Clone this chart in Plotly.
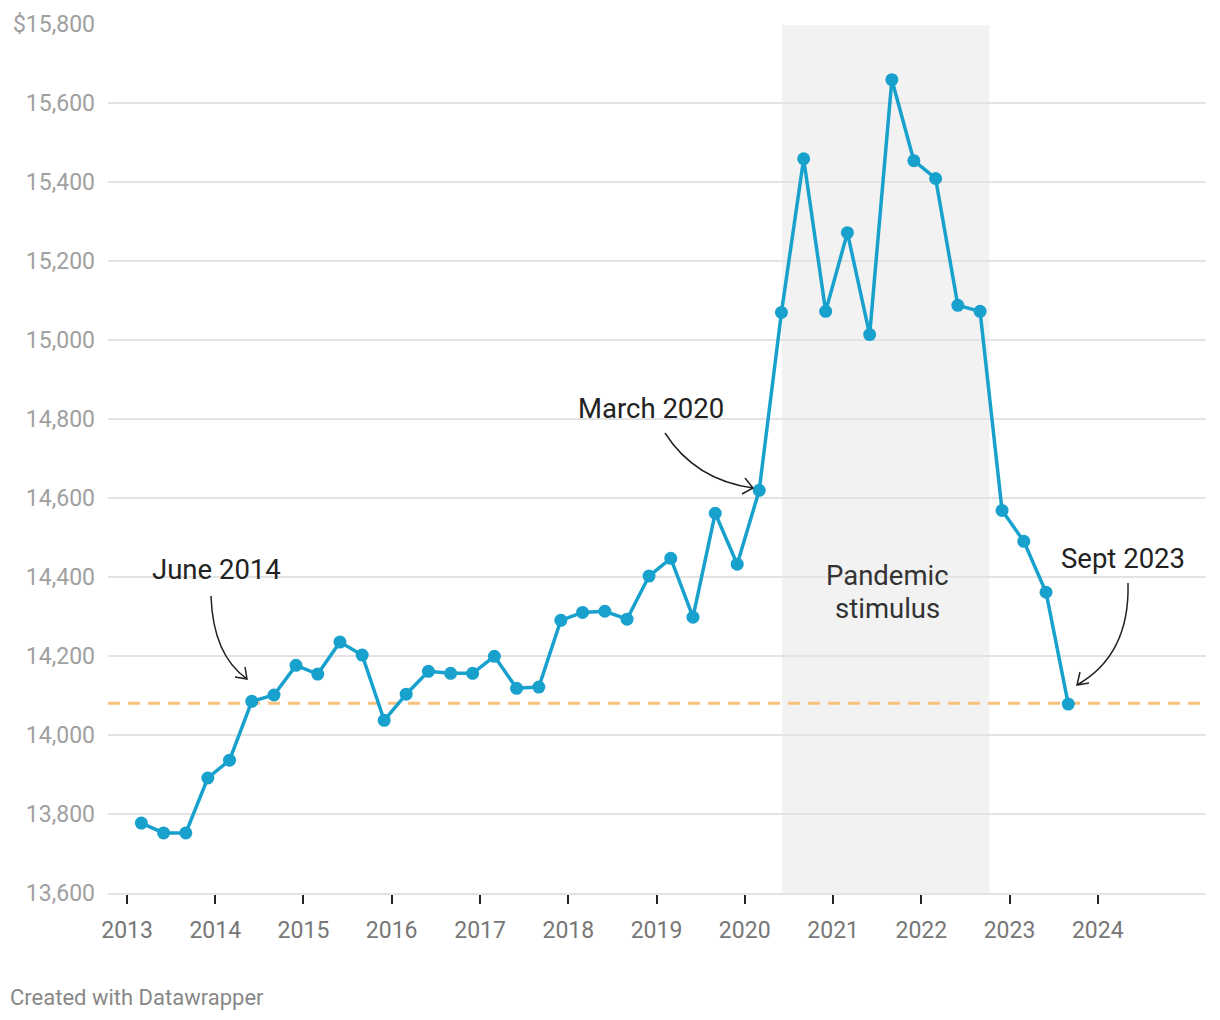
import plotly.graph_objects as go

# ---------------- data ----------------
dates = [
    "2013-03-01", "2013-06-01", "2013-09-01", "2013-12-01",
    "2014-03-01", "2014-06-01", "2014-09-01", "2014-12-01",
    "2015-03-01", "2015-06-01", "2015-09-01", "2015-12-01",
    "2016-03-01", "2016-06-01", "2016-09-01", "2016-12-01",
    "2017-03-01", "2017-06-01", "2017-09-01", "2017-12-01",
    "2018-03-01", "2018-06-01", "2018-09-01", "2018-12-01",
    "2019-03-01", "2019-06-01", "2019-09-01", "2019-12-01",
    "2020-03-01", "2020-06-01", "2020-09-01", "2020-12-01",
    "2021-03-01", "2021-06-01", "2021-09-01", "2021-12-01",
    "2022-03-01", "2022-06-01", "2022-09-01", "2022-12-01",
    "2023-03-01", "2023-06-01", "2023-09-01",
]
values = [
    13777, 13752, 13752, 13891,
    13936, 14085, 14101, 14176,
    14154, 14235, 14202, 14037,
    14103, 14161, 14156, 14156,
    14199, 14118, 14121, 14290,
    14310, 14313, 14293, 14402,
    14447, 14298, 14561, 14432,
    14619, 15069, 15458, 15072,
    15271, 15013, 15658, 15453,
    15408, 15087, 15072, 14568,
    14490, 14361, 14078,
]
reference_level = 14080
shade_start, shade_end = "2020-06-03", "2022-10-10"

x_range = ["2012-10-14", "2025-03-24"]
year_ticks = [f"{y}-01-01" for y in range(2013, 2025)]
year_labels = [str(y) for y in range(2013, 2025)]
y_ticks = [13600, 13800, 14000, 14200, 14400, 14600, 14800, 15000, 15200, 15400, 15600, 15800]
y_labels = ["13,600", "13,800", "14,000", "14,200", "14,400", "14,600", "14,800",
            "15,000", "15,200", "15,400", "15,600", "$15,800"]

# ---------------- layout geometry (pixels) ----------------
W, H = 1220, 1020
PL, PR, PT, PB = 108, 1206, 23, 893


def px(xp, yp):
    return (xp - PL) / (PR - PL), (PB - yp) / (PB - PT)


def curve_path(p0, c, p1, h1, h2):
    x0, y0 = px(*p0)
    cx, cy = px(*c)
    x1, y1 = px(*p1)
    a1x, a1y = px(*h1)
    a2x, a2y = px(*h2)
    return (f"M {x0},{y0} Q {cx},{cy} {x1},{y1} "
            f"M {a1x},{a1y} L {x1},{y1} L {a2x},{a2y}")


FONT = "Roboto"
BLUE = "#18a1cd"
ORANGE = "#f8c27e"
GRID = "#e3e3e3"

fig = go.Figure()

fig.add_trace(go.Scatter(
    x=dates, y=values, mode="lines+markers",
    line=dict(color=BLUE, width=3.5),
    marker=dict(color=BLUE, size=13),
    hoverinfo="x+y", showlegend=False,
))

shapes = [
    # shading (paper y-ref -> drawn beneath the gridlines)
    dict(type="rect", xref="x", yref="paper", x0=shade_start, x1=shade_end,
         y0=0, y1=px(0, 25)[1], fillcolor="#f2f2f2", line=dict(width=0), layer="below"),
    # reference level (data refs -> drawn above gridlines and shading)
    dict(type="line", xref="x", yref="y", x0=x_range[0], x1=x_range[1],
         y0=reference_level, y1=reference_level,
         line=dict(color=ORANGE, width=3, dash="12px,8px"), layer="below"),
]

arrow_style = dict(color="#222222", width=1.5)
arrows = [
    curve_path((211, 596), (213, 655), (247, 679), (235, 677), (245, 667)),
    curve_path((665, 433), (695, 480), (753, 488), (742, 494), (745, 478)),
    curve_path((1128, 583), (1130, 655), (1077, 685), (1089, 683), (1080, 672)),
]
for p in arrows:
    shapes.append(dict(type="path", xref="paper", yref="paper", path=p,
                       line=arrow_style, layer="above"))

cx, cy = px(8, 997)
ann_font = dict(family=FONT, size=27.5, color="#222222")
pan_font = dict(family=FONT, size=27.5, color="#333333")
annotations = [
    dict(x="2014-01-05", y=14419, xref="x", yref="y", text="June 2014",
         showarrow=False, font=ann_font, xanchor="center", yanchor="middle"),
    dict(x="2018-12-10", y=14825, xref="x", yref="y", text="March 2020",
         showarrow=False, font=ann_font, xanchor="center", yanchor="middle"),
    dict(x="2024-04-13", y=14447, xref="x", yref="y", text="Sept 2023",
         showarrow=False, font=ann_font, xanchor="center", yanchor="middle"),
    dict(x="2021-08-14", y=14404, xref="x", yref="y", text="Pandemic",
         showarrow=False, font=pan_font, xanchor="center", yanchor="middle"),
    dict(x="2021-08-14", y=14321, xref="x", yref="y", text="stimulus",
         showarrow=False, font=pan_font, xanchor="center", yanchor="middle"),
    dict(x=cx, y=cy, xref="paper", yref="paper",
         text="Created with Datawrapper", showarrow=False,
         font=dict(family=FONT, size=22, color="#888888"),
         xanchor="left", yanchor="middle"),
]

fig.update_layout(
    width=W, height=H,
    margin=dict(l=PL, r=W - PR, t=PT, b=H - PB, pad=0),
    paper_bgcolor="white", plot_bgcolor="white",
    font=dict(family=FONT),
    shapes=shapes, annotations=annotations,
    xaxis=dict(
        type="date", range=x_range,
        tickvals=year_ticks, ticktext=year_labels,
        showgrid=False, zeroline=False,
        showline=True, linecolor=GRID, linewidth=2,
        ticks="outside", ticklen=9, tickwidth=2, tickcolor="#222222",
        ticklabelstandoff=6,
        tickfont=dict(family=FONT, size=23, color="#777777"),
    ),
    yaxis=dict(
        range=[13600, 15801.5], tickvals=y_ticks, ticktext=y_labels,
        showgrid=True, gridcolor=GRID, gridwidth=2,
        zeroline=False, showline=False, ticks="",
        ticklabelstandoff=12,
        tickfont=dict(family=FONT, size=23, color="#a0a0a0"),
    ),
)

fig.write_html("out.html", config={"displayModeBar": False},
               post_script="document.body.style.margin='0';")
